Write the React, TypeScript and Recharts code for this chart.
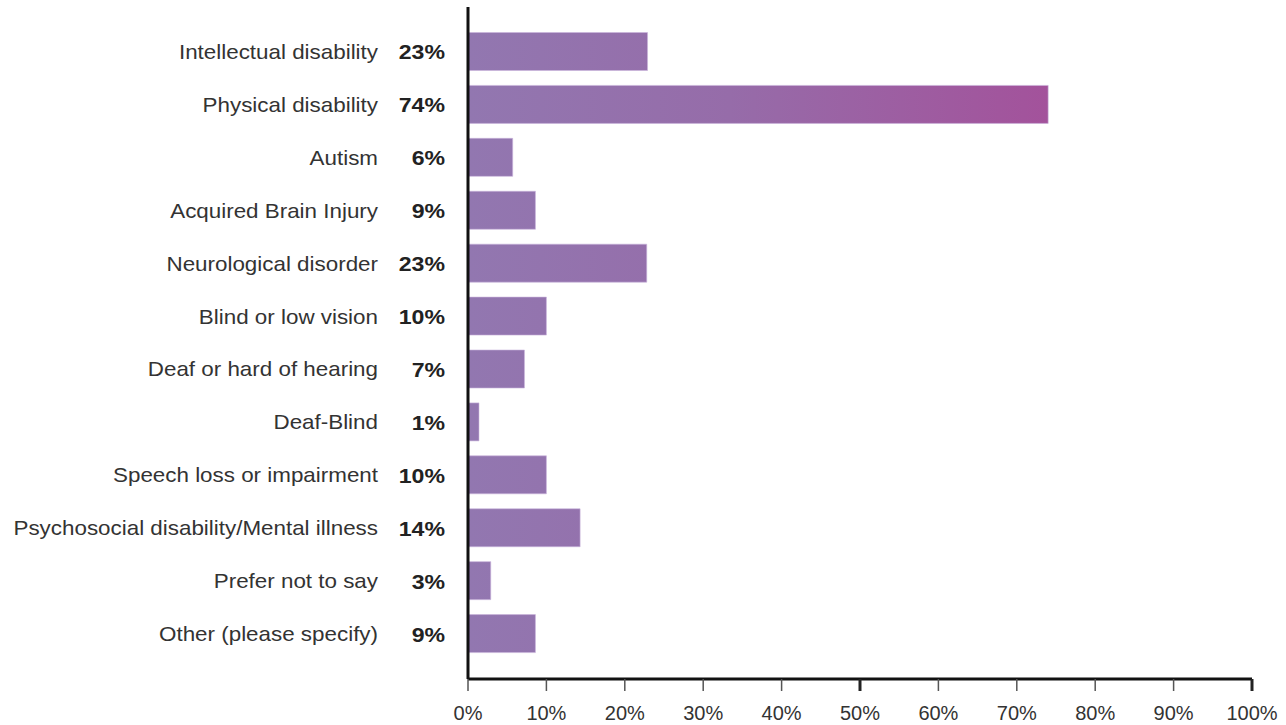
import React from "react";
import { BarChart, Bar, XAxis, YAxis } from "recharts";

const categories = [
  "Intellectual disability",
  "Physical disability",
  "Autism",
  "Acquired Brain Injury",
  "Neurological disorder",
  "Blind or low vision",
  "Deaf or hard of hearing",
  "Deaf-Blind",
  "Speech loss or impairment",
  "Psychosocial disability/Mental illness",
  "Prefer not to say",
  "Other (please specify)",
];
const values = [22.9, 74.0, 5.7, 8.6, 22.8, 10.0, 7.2, 1.4, 10.0, 14.3, 2.9, 8.6];
const pctLabels = ["23%", "74%", "6%", "9%", "23%", "10%", "7%", "1%", "10%", "14%", "3%", "9%"];
const xTicks = [0, 10, 20, 30, 40, 50, 60, 70, 80, 90, 100];

const data = categories.map((name, i) => ({ name, value: values[i], pct: pctLabels[i] }));

const FONT = "'Liberation Sans', Arial, Helvetica, sans-serif";

const YTick = (props: any) => {
  const { x, y, payload, index } = props;
  const i = typeof index === "number" ? index : categories.indexOf(payload.value);
  return (
    <g>
      <text
        transform={`translate(${x - 90},${y + 7}) scale(1.12,1)`}
        textAnchor="end"
        fontFamily={FONT}
        fontSize={20}
        fill="#333"
      >
        {payload.value}
      </text>
      <text
        transform={`translate(${x - 23},${y + 7.5}) scale(1.1,1)`}
        textAnchor="end"
        fontFamily={FONT}
        fontSize={21}
        fontWeight="bold"
        fill="#222"
      >
        {pctLabels[i]}
      </text>
    </g>
  );
};

const XTick = (props: any) => {
  const { x, y, payload } = props;
  const thick = payload.value === 50 || payload.value === 100;
  return (
    <g>
      {thick && <line x1={x} x2={x} y1={y - 12} y2={y} stroke="#222" strokeWidth={3} />}
      <text x={x} y={y + 29} textAnchor="middle" fontFamily={FONT} fontSize={20} fill="#333">
        {payload.value + "%"}
      </text>
    </g>
  );
};

export default function App() {
  return (
    <div style={{ position: "absolute", left: 0, top: 0, width: 1286, height: 725, background: "#fff" }}>
      <BarChart
        width={1286}
        height={725}
        data={data}
        layout="vertical"
        margin={{ top: 7, right: 34, bottom: 0, left: 0 }}
      >
        <defs>
          <linearGradient id="barGrad" gradientUnits="userSpaceOnUse" x1={469} y1={0} x2={1048} y2={0}>
            <stop offset="0%" stopColor="#9277b0" />
            <stop offset="45%" stopColor="#966ca9" />
            <stop offset="100%" stopColor="#a3529b" />
          </linearGradient>
        </defs>
        <XAxis
          type="number"
          domain={[0, 100]}
          ticks={xTicks}
          interval={0}
          height={46}
          axisLine={{ stroke: "#111", strokeWidth: 3 }}
          tickLine={{ stroke: "#555", strokeWidth: 1.5 }}
          tickSize={12}
          tickMargin={0}
          tick={<XTick />}
        />
        <YAxis
          type="category"
          dataKey="name"
          width={468}
          padding={{ top: 18.5, bottom: 18.5 }}
          axisLine={{ stroke: "#111", strokeWidth: 3 }}
          tickLine={false}
          tickSize={0}
          tickMargin={0}
          interval={0}
          tick={<YTick />}
        />
        <Bar
          dataKey="value"
          barSize={38}
          fill="url(#barGrad)"
          stroke="#c9b4dc"
          strokeWidth={1}
          strokeOpacity={0.6}
          isAnimationActive={false}
        />
      </BarChart>
    </div>
  );
}
